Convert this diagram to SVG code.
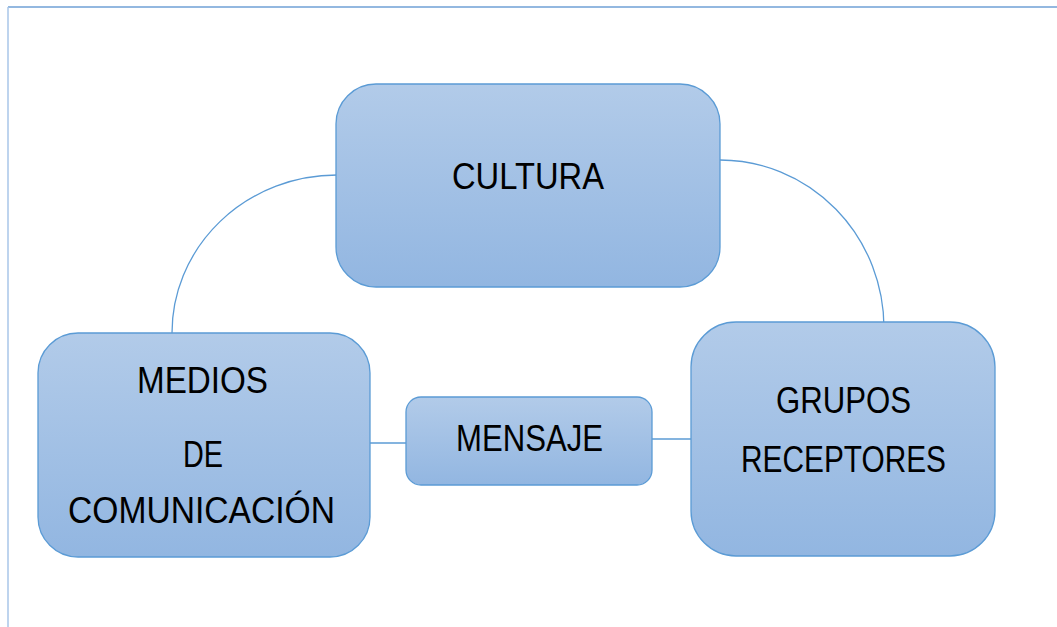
<svg xmlns="http://www.w3.org/2000/svg" width="1057" height="627" viewBox="0 0 1057 627">
<defs>
<linearGradient id="g" x1="0" y1="0" x2="0" y2="1">
<stop offset="0" stop-color="#b2cbe9"/>
<stop offset="1" stop-color="#92b6e1"/>
</linearGradient>
<style>
.box{fill:url(#g);stroke:#5b9bd5;stroke-width:1.3}
.lbl{font-family:"Liberation Sans",Arial,sans-serif;font-size:36px;fill:#000}
.con{fill:none;stroke:#5b9bd5;stroke-width:1.3}
</style>
</defs>
<rect width="1057" height="627" fill="#fff"/>
<g id="frame">
<line x1="8" y1="7" x2="1057" y2="7" stroke="#6fa0d6" stroke-width="1.3"/>
<line x1="8" y1="7" x2="8" y2="627" stroke="#a8c6e8" stroke-width="1.5"/>
</g>
<g id="connectors">
<path class="con" d="M172,334 A165,158 0 0 1 337,175"/>
<path class="con" d="M720,160 A164,168 0 0 1 884,328"/>
<line class="con" x1="370" y1="443" x2="406" y2="443"/>
<line class="con" x1="652" y1="439" x2="691" y2="439"/>
</g>
<g id="cultura">
<rect class="box" x="336" y="84" width="384" height="203" rx="40"/>
<text class="lbl" x="452" y="189" textLength="152" lengthAdjust="spacingAndGlyphs">CULTURA</text>
</g>
<g id="medios">
<rect class="box" x="38" y="333" width="332" height="224" rx="40"/>
<text class="lbl" x="137" y="393" textLength="131" lengthAdjust="spacingAndGlyphs">MEDIOS</text>
<text class="lbl" x="183" y="467" textLength="40" lengthAdjust="spacingAndGlyphs">DE</text>
<text class="lbl" x="68" y="523" textLength="267" lengthAdjust="spacingAndGlyphs">COMUNICACIÓN</text>
</g>
<g id="grupos">
<rect class="box" x="691" y="322" width="304" height="234" rx="45"/>
<text class="lbl" x="776" y="413" textLength="135" lengthAdjust="spacingAndGlyphs">GRUPOS</text>
<text class="lbl" x="741" y="472" textLength="205" lengthAdjust="spacingAndGlyphs">RECEPTORES</text>
</g>
<g id="mensaje">
<rect class="box" x="406" y="397" width="246" height="88" rx="15"/>
<text class="lbl" x="456" y="451" textLength="147" lengthAdjust="spacingAndGlyphs">MENSAJE</text>
</g>
</svg>
